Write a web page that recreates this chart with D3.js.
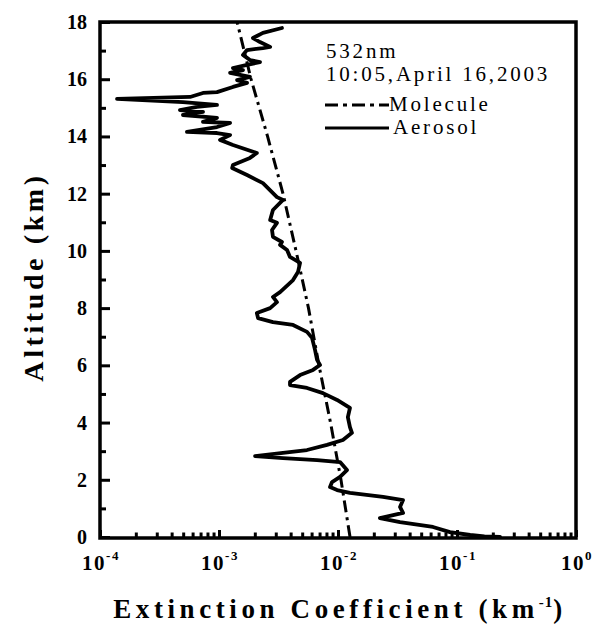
<!DOCTYPE html>
<html><head><meta charset="utf-8">
<script src="https://cdn.jsdelivr.net/npm/d3@7"></script>
<style>body{margin:0;background:#fff}</style>
</head><body><svg id="c" width="594" height="626"></svg>
<script>
// ---- data ----
const molAlt = [0, 2, 4, 6, 8, 10, 12, 14, 16, 18];
const molExt = [0.01262, 0.01059, 0.00865, 0.00692, 0.00565, 0.00444, 0.00345, 0.00256, 0.00186, 0.00142];

const aerAlt = [17.79,17.62,17.44,17.30,17.13,17.09,17.02,16.85,16.67,16.60,16.50,16.39,16.32,16.22,16.08,15.97,15.87,15.73,15.55,15.52,15.38,15.31,15.20,15.10,15.03,14.92,14.86,14.75,14.65,14.51,14.47,14.33,14.16,14.12,14.05,13.88,13.70,13.42,13.25,13.00,12.90,12.65,12.37,11.88,11.78,11.43,11.08,10.98,10.73,10.49,10.31,10.21,10.03,9.79,9.58,9.26,8.98,8.56,8.39,8.21,8.00,7.83,7.65,7.51,7.41,7.17,6.96,6.54,6.19,6.01,5.84,5.66,5.42,5.31,5.21,5.03,4.79,4.51,4.19,3.84,3.64,3.39,3.22,3.04,2.94,2.83,2.76,2.69,2.62,2.34,2.10,1.92,1.75,1.64,1.54,1.40,1.29,1.05,0.84,0.66,0.52,0.35,0.17,0.07,0.02,0.00];
const aerExt = [3.38e-3,2.34e-3,1.93e-3,2.21e-3,2.69e-3,2.34e-3,1.72e-3,1.59e-3,1.82e-3,2.21e-3,1.72e-3,1.31e-3,1.59e-3,1.24e-3,1.82e-3,1.42e-3,1.72e-3,1.31e-3,9.62e-4,7.34e-4,5.71e-4,1.39e-4,4.98e-4,9.62e-4,6.53e-4,4.70e-4,7.34e-4,4.98e-4,9.62e-4,7.34e-4,1.24e-3,9.62e-4,5.38e-4,9.62e-4,1.24e-3,1.02e-3,1.31e-3,2.08e-3,1.82e-3,1.31e-3,1.29e-3,1.72e-3,2.34e-3,3.07e-3,3.45e-3,2.84e-3,2.69e-3,3.07e-3,2.79e-3,2.84e-3,3.38e-3,3.26e-3,3.73e-3,3.95e-3,4.80e-3,4.61e-3,4.19e-3,3.26e-3,2.84e-3,3.07e-3,2.69e-3,2.08e-3,2.13e-3,2.84e-3,4.19e-3,5.49e-3,6.05e-3,6.41e-3,6.67e-3,7.06e-3,6.17e-3,4.80e-3,3.95e-3,3.95e-3,5.49e-3,7.48e-3,9.82e-3,1.26e-2,1.21e-2,1.26e-2,1.31e-2,1.10e-2,8.09e-3,5.49e-3,3.45e-3,2.01e-3,3.45e-3,6.67e-3,1.04e-2,1.19e-2,1.04e-2,8.91e-3,8.57e-3,9.82e-3,1.26e-2,2.39e-2,3.52e-2,3.32e-2,3.52e-2,2.25e-2,3.32e-2,6.28e-2,8.73e-2,1.29e-1,1.7e-1,2.3e-1];

const xTickExps = [-4, -3, -2, -1, 0];
const yTicks = [0, 2, 4, 6, 8, 10, 12, 14, 16, 18];
const infoLines = ["532nm", "10:05,April 16,2003"];
const seriesNames = ["Molecule", "Aerosol"];
const xTitle = "Extinction Coefficient (km";
const xTitleSup = "-1";
const yTitle = "Altitude (km)";

// ---- layout ----
const L = 100, R = 576, T = 22, B = 537;
const svg = d3.select("#c");
const x = d3.scaleLog().domain([1e-4, 1]).range([L, R]);
const y = d3.scaleLinear().domain([0, 18]).range([B, T]);
const serif = "'Liberation Serif','Times New Roman',serif";

// minor / major ticks on x
const minorX = [];
for (let e = -4; e < 0; e++) for (let m = 2; m <= 9; m++) minorX.push(m * Math.pow(10, e));
const majorX = xTickExps.map(e => Math.pow(10, e));

const gx = svg.append("g").attr("transform", `translate(0,${B})`);
gx.call(d3.axisBottom(x).tickValues(minorX).tickSizeInner(-4.5).tickSizeOuter(0).tickFormat(""));
gx.call(g => g.select(".domain").remove());
const gx2 = svg.append("g").attr("transform", `translate(0,${B})`);
gx2.call(d3.axisBottom(x).tickValues(majorX).tickSizeInner(-7).tickSizeOuter(0).tickFormat(""));
gx2.call(g => g.select(".domain").remove());
svg.selectAll(".tick line").attr("stroke", "#000").attr("stroke-width", 2.5);

// y ticks
const yMinor = d3.range(1, 18, 2);
const gy = svg.append("g").attr("transform", `translate(${L},0)`);
gy.call(d3.axisLeft(y).tickValues(yMinor).tickSizeInner(-6).tickSizeOuter(0).tickFormat(""));
gy.call(g => g.select(".domain").remove());
const gy2 = svg.append("g").attr("transform", `translate(${L},0)`);
gy2.call(d3.axisLeft(y).tickValues(yTicks).tickSizeInner(-10).tickSizeOuter(0).tickFormat(""));
gy2.call(g => g.select(".domain").remove());
svg.selectAll(".tick line").attr("stroke", "#000").attr("stroke-width", 3);

// frame
svg.append("rect").attr("x", L).attr("y", T).attr("width", R - L).attr("height", B - T + 1)
  .attr("fill", "none").attr("stroke", "#000").attr("stroke-width", 3.5);

// y tick labels
svg.append("g").selectAll("text").data(yTicks).join("text")
  .attr("x", 87).attr("y", d => y(d) + 7)
  .attr("text-anchor", "end").attr("font-family", serif).attr("font-weight", "bold")
  .attr("font-size", 20).text(d => d);

// x tick labels
const xl = svg.append("g").selectAll("text").data(xTickExps).join("text")
  .attr("x", d => x(Math.pow(10, d)) + 1).attr("y", 570)
  .attr("text-anchor", "middle").attr("font-family", serif).attr("font-weight", "bold")
  .attr("font-size", 21).attr("letter-spacing", 1.5);
xl.append("tspan").text("10");
xl.append("tspan").attr("dy", -10).attr("font-size", 13).text(d => d === 0 ? "0" : "-" + (-d));

// axis titles
const xt = svg.append("text").attr("x", (L + R) / 2 + 2).attr("y", 618)
  .attr("text-anchor", "middle").attr("font-family", serif).attr("font-weight", "bold")
  .attr("font-size", 27).attr("letter-spacing", 4.6);
xt.append("tspan").text(xTitle);
xt.append("tspan").attr("dy", -11).attr("font-size", 15).attr("letter-spacing", 1).text(xTitleSup);
xt.append("tspan").attr("dy", 11).text(")");

svg.append("text").attr("transform", "translate(43,277) rotate(-90)")
  .attr("text-anchor", "middle").attr("font-family", serif).attr("font-weight", "bold")
  .attr("font-size", 28).attr("letter-spacing", 3.6).text(yTitle);

// lines
const mol = molAlt.map((a, i) => ({a, e: molExt[i]}));
const aer = aerAlt.map((a, i) => ({a, e: aerExt[i]}));
const line = d3.line().x(d => x(d.e)).y(d => y(d.a));
const dash = "12,5,3,5";
svg.append("path").datum(mol).attr("d", line).attr("fill", "none").attr("stroke", "#000")
  .attr("stroke-width", 3).attr("stroke-dasharray", dash);
svg.append("path").datum(aer).attr("d", line).attr("fill", "none").attr("stroke", "#000")
  .attr("stroke-width", 3.8).attr("stroke-linejoin", "round").attr("stroke-linecap", "round");

// legend / info
const lg = svg.append("g").attr("font-family", serif).attr("font-size", 21).attr("letter-spacing", 2.8);
lg.selectAll("text.info").data(infoLines).join("text").attr("class", "info")
  .attr("x", 326).attr("y", (d, i) => [58, 81][i]).text(d => d);
const ly = [105, 128];
seriesNames.forEach((n, i) => {
  lg.append("line").attr("x1", 325).attr("x2", 389).attr("y1", ly[i]).attr("y2", ly[i])
    .attr("stroke", "#000").attr("stroke-width", 3)
    .attr("stroke-dasharray", i === 0 ? "13,5,4,5" : null);
  lg.append("text").attr("x", i === 0 ? 389 : 393).attr("y", ly[i] + 6).text(n);
});
</script></body></html>
